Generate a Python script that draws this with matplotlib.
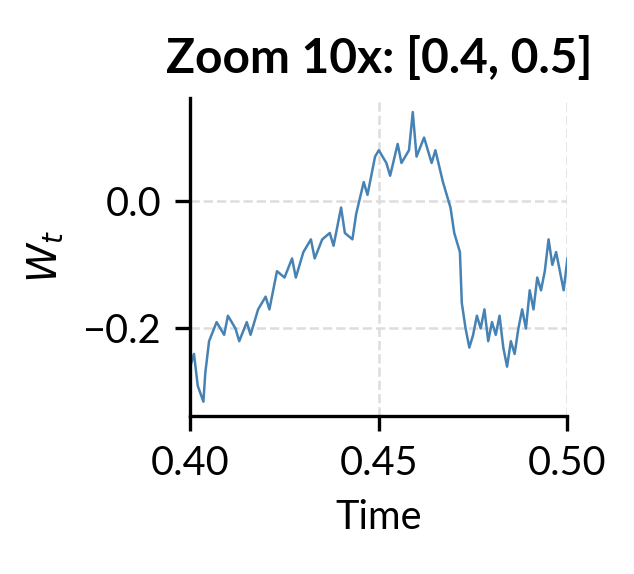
import matplotlib.pyplot as plt

# path values (time, W_t)
t = [0.400, 0.401, 0.402, 0.4035, 0.404, 0.405, 0.407, 0.409, 0.410, 0.412,
     0.413, 0.415, 0.416, 0.418, 0.420, 0.421, 0.423, 0.425, 0.427, 0.428,
     0.430, 0.432, 0.433, 0.435, 0.437, 0.438, 0.440, 0.441, 0.443, 0.444,
     0.446, 0.447, 0.449, 0.450, 0.452, 0.453, 0.455, 0.456, 0.458, 0.459,
     0.460, 0.462, 0.464, 0.465, 0.467, 0.469, 0.470, 0.4715, 0.472, 0.473,
     0.474, 0.475, 0.476, 0.477, 0.478, 0.479, 0.480, 0.481, 0.482, 0.483,
     0.484, 0.485, 0.486, 0.487, 0.488, 0.489, 0.490, 0.491, 0.492, 0.493,
     0.494, 0.495, 0.496, 0.497, 0.498, 0.499, 0.500]
w = [-0.26, -0.24, -0.29, -0.315, -0.27, -0.22, -0.19, -0.21, -0.18, -0.20,
     -0.22, -0.19, -0.21, -0.17, -0.15, -0.17, -0.11, -0.12, -0.09, -0.12,
     -0.08, -0.06, -0.09, -0.06, -0.05, -0.07, -0.01, -0.05, -0.06, -0.02,
     0.03, 0.01, 0.07, 0.08, 0.06, 0.04, 0.09, 0.06, 0.08, 0.14,
     0.07, 0.10, 0.06, 0.08, 0.03, -0.01, -0.05, -0.08, -0.16, -0.20,
     -0.23, -0.21, -0.18, -0.20, -0.17, -0.22, -0.19, -0.21, -0.18, -0.23,
     -0.26, -0.22, -0.24, -0.20, -0.17, -0.20, -0.14, -0.17, -0.12, -0.14,
     -0.11, -0.06, -0.10, -0.08, -0.11, -0.14, -0.09]

plt.rcParams['font.family'] = ['Lato', 'DejaVu Sans']
plt.rcParams['font.size'] = 9.5

fig, ax = plt.subplots(figsize=(634 / 300, 574 / 300), dpi=300)
fig.subplots_adjust(left=0.30, right=0.895, top=0.83, bottom=0.275)

ax.plot(t, w, color='#4682b4', lw=0.6)
ax.set_xlim(0.4, 0.5)
ax.set_xticks([0.40, 0.45, 0.50])
ax.set_yticks([-0.2, 0.0])
ax.yaxis.set_major_formatter(plt.FuncFormatter(lambda v, p: f"{v:.1f}".replace('-', '\u2212')))
ax.grid(True, ls='--', color='#dddddd', lw=0.6)
ax.spines['top'].set_visible(False)
ax.spines['right'].set_visible(False)
ax.set_title('Zoom 10x: [0.4, 0.5]', fontweight='bold', fontsize=11.5)
ax.set_xlabel('Time')
ax.set_ylabel('$W_t$')

fig.savefig('out.png', dpi=300)
